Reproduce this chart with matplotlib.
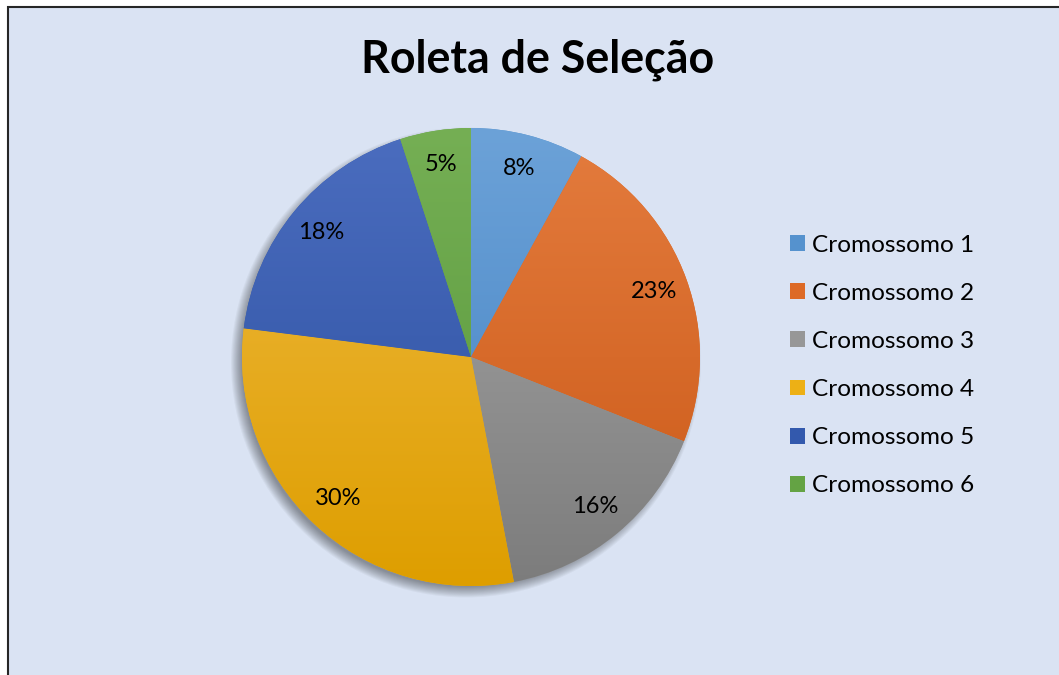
import numpy as np
import matplotlib
matplotlib.use("Agg")
import matplotlib.pyplot as plt
from matplotlib.patches import Rectangle, Circle
from matplotlib.colors import to_rgb

plt.rcParams['font.family'] = ['Lato', 'DejaVu Sans']

# data
labels = ["Cromossomo 1", "Cromossomo 2", "Cromossomo 3",
          "Cromossomo 4", "Cromossomo 5", "Cromossomo 6"]
values = [8, 23, 16, 30, 18, 5]

# flat colours (legend) + top/bottom shades for the gradient fill
base_cols = ["#5592CE", "#DD6A26", "#979797", "#EDB015", "#3359AD", "#64A344"]
top_cols  = ["#6CA2D8", "#E47C3E", "#A9A9A9", "#EFBA42", "#4B6DBF", "#75AF54"]
bot_cols  = ["#4281C2", "#CA5816", "#7C7C7C", "#DE9E00", "#2A4E9E", "#56963A"]

W, H = 1059, 675
fig = plt.figure(figsize=(W / 100, H / 100), dpi=100)
fig.patch.set_facecolor("white")

# chart area background with dark border on top/left
bg = Rectangle((8 / W, -0.05), 1.2, (H - 7) / H + 0.05, transform=fig.transFigure,
               facecolor="#DAE3F3", edgecolor="#262626", linewidth=1.5, zorder=-5)
fig.patches.append(bg)

fig.text(538 / W, 1 - 60 / H, "Roleta de Seleção", ha="center", va="center",
         fontsize=32.2, fontweight="bold", color="black", zorder=5)

ax = fig.add_axes([242 / W, 89 / H, 458 / W, 458 / H])
ax.set_facecolor("none")
ax.set_zorder(2)

# soft shadow under the pie (down-left)
for i in range(12):
    ax.add_patch(Circle((-0.022, -0.024), 0.98 + 0.0042 * i, facecolor="black",
                        edgecolor="none", alpha=0.035, zorder=1, clip_on=False))

wedges, texts, autotexts = ax.pie(values, colors=base_cols, startangle=90,
                                  counterclock=False, autopct="%1.0f%%",
                                  pctdistance=0.85, radius=1,
                                  wedgeprops=dict(linewidth=0),
                                  textprops=dict(fontsize=17, color="black"))
for w in wedges:
    w.set_zorder(2)
for t in autotexts:
    t.set_zorder(5)

# vertical gradient clipped to each wedge
n = 256
for w, c1, c2 in zip(wedges, top_cols, bot_cols):
    a, b = np.array(to_rgb(c1)), np.array(to_rgb(c2))
    t = np.linspace(0, 1, n)[:, None, None]
    grad = a * (1 - t) + b * t
    im = ax.imshow(grad, extent=[-1, 1, -1, 1], origin="upper", aspect="auto",
                   zorder=3, interpolation="bilinear")
    im.set_clip_path(w)

ax.set_xlim(-1, 1)
ax.set_ylim(-1, 1)
ax.set_aspect("equal")
ax.axis("off")

leg = fig.legend(wedges, labels, loc="center left",
                 bbox_to_anchor=(790 / W, 1 - 365.5 / H), frameon=False,
                 fontsize=17.6, handlelength=0.62, handleheight=0.62,
                 handletextpad=0.3, labelspacing=1.11, borderpad=0, borderaxespad=0)
leg.set_zorder(5)

fig.savefig("out.png", dpi=100, facecolor=fig.get_facecolor())
